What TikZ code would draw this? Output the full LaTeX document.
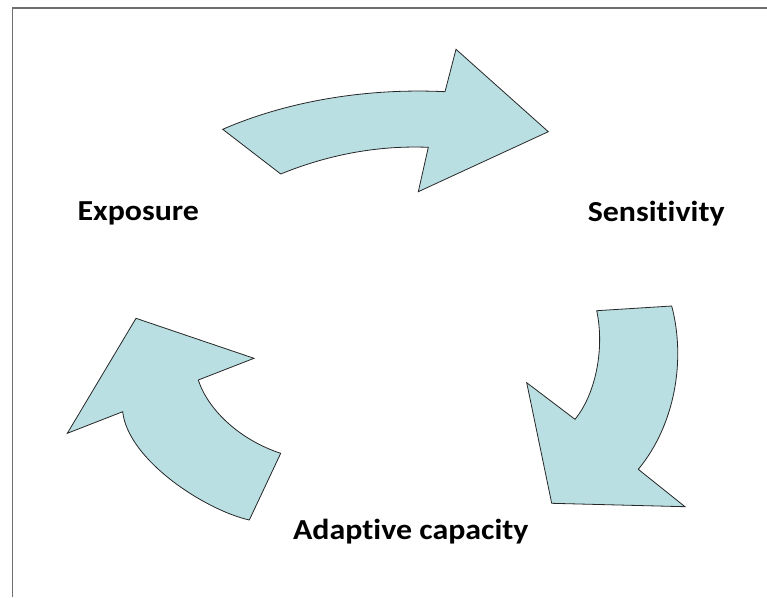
\documentclass[tikz,border=0pt]{standalone}
\usepackage{fontspec}
\usepackage{graphicx}
\setmainfont{Carlito}[Ligatures={NoCommon,NoContextual}]
\definecolor{arrowfill}{RGB}{185,223,227}
\definecolor{framegray}{RGB}{110,110,110}
\newcommand{\widetext}[1]{\scalebox{1.1}[1]{#1}}
\tikzset{
  cyclearrow/.style={fill=arrowfill, draw=black!85, line width=0.8pt, line join=miter},
  lbl/.style={font=\fontsize{29}{33}\selectfont\bfseries, inner sep=0pt, anchor=base},
  framerule/.style={draw=framegray, line width=1.6pt}
}
\begin{document}
\begin{tikzpicture}[x=1pt,y=-1pt]
\useasboundingbox (0,0) rectangle (767,597);
% frame
\draw[framerule] (12.5,597) -- (12.5,8) -- (767,8);
% top arrow
\draw[cyclearrow] (222.7,129.3) .. controls (290,100) and (370,88) .. (445,91.7)
  -- (456,49.3) -- (548.3,131.7) -- (418.3,191.7) -- (428.3,147.3)
  .. controls (370,145) and (320,158) .. (280.7,174) -- cycle;
% right arrow
\draw[cyclearrow] (596.7,310.7) -- (671.7,306)
  .. controls (686,360) and (675,425) .. (638.3,469.3)
  -- (685,506.7) -- (551.7,503.3) -- (526.7,382.7) -- (575,419.3)
  .. controls (595,395) and (605,350) .. (596.7,310.7) -- cycle;
% left arrow
\draw[cyclearrow] (136,318.3) -- (254,358.3) -- (198.3,380)
  .. controls (208,410) and (240,440) .. (280.7,453.3)
  -- (249.3,520)
  .. controls (205,510) and (128,460) .. (122.7,411.7)
  -- (67.3,433.3) -- cycle;
% labels
\node[lbl] (exposure) at (138.3,220) {\widetext{Exposure}};
\node[lbl] (sensitivity) at (656.2,221) {\widetext{Sensitivity}};
\node[lbl] (adaptive) at (410.8,539) {\widetext{Adaptive capacity}};
\end{tikzpicture}
\end{document}
